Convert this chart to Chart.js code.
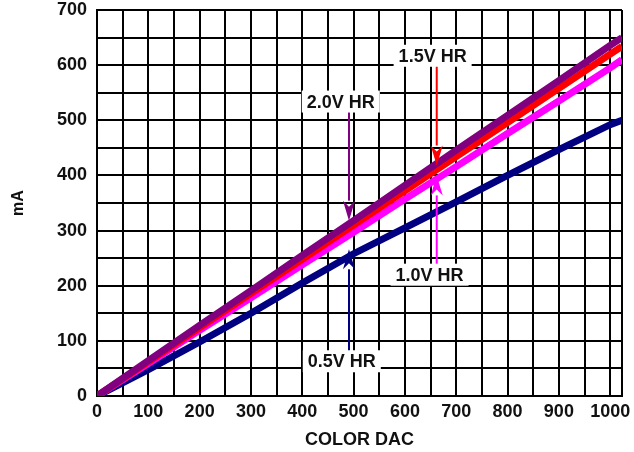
<!DOCTYPE html>
<html>
<head>
<meta charset="utf-8">
<script src="https://cdn.jsdelivr.net/npm/chart.js@4/dist/chart.umd.min.js"></script>
<style>
  html, body { margin: 0; padding: 0; background: #fff; }
</style>
</head>
<body>
<canvas class="js-chart" width="634" height="452"></canvas>
<script>
// COLOR DAC code vs output current (mA) for four headroom voltages
const dacCodes = [0, 100, 200, 300, 400, 500, 600, 700, 800, 900, 1000, 1023];
const hr20 = [0, 64, 128, 191, 255, 318, 382, 446, 509, 572, 636, 650];
const hr15 = [0, 62, 124, 186, 248, 310, 372, 434, 496, 558, 620, 634];
const hr10 = [0, 59, 119, 178, 238, 297, 357, 416, 476, 535, 595, 610];
const hr05 = [0, 48, 98, 150, 205, 258, 305, 352, 400, 447, 492, 500];

const seriesNames = ['2.0V HR', '1.5V HR', '1.0V HR', '0.5V HR'];
const seriesColors = ['#800080', '#ff0000', '#ff00ff', '#000080'];

const FONT = { family: '"Liberation Sans", Arial, sans-serif', size: 18, weight: 'bold' };

// callout labels: text centre and arrow tip, in data units
const callouts = [
  { text: '1.5V HR', x: 654, y: 617, tipX: 662, tipY: 418, color: '#ff0000', dir: 1 },
  { text: '2.0V HR', x: 475, y: 534, tipX: 491, tipY: 318, color: '#800080', dir: 1 },
  { text: '1.0V HR', x: 648, y: 220, tipX: 662, tipY: 400, color: '#ff00ff', dir: -1 },
  { text: '0.5V HR', x: 477, y: 63, tipX: 491, tipY: 266, color: '#000080', dir: -1 },
];

function toPoints(values) {
  return dacCodes.map((x, i) => ({ x, y: values[i] }));
}

const framePlugin = {
  id: 'frame',
  beforeDatasetsDraw(chart) {
    const { ctx, chartArea: a } = chart;
    ctx.save();
    ctx.strokeStyle = '#000';
    ctx.lineWidth = 2;
    ctx.beginPath();
    ctx.moveTo(a.right, a.top);
    ctx.lineTo(a.right, a.bottom);
    ctx.stroke();
    ctx.restore();
  },
};

const calloutPlugin = {
  id: 'callouts',
  afterDatasetsDraw(chart) {
    const { ctx, scales } = chart;
    ctx.save();
    ctx.font = `${FONT.weight} ${FONT.size}px ${FONT.family}`;
    ctx.textAlign = 'center';
    ctx.textBaseline = 'middle';
    callouts.forEach(c => {
      const cx = scales.x.getPixelForValue(c.x);
      const cy = scales.y.getPixelForValue(c.y);
      const tx = scales.x.getPixelForValue(c.tipX);
      const ty = scales.y.getPixelForValue(c.tipY);
      const w = ctx.measureText(c.text).width + 10;
      ctx.fillStyle = '#fff';
      ctx.fillRect(cx - w / 2, cy - 11, w, 22);
      ctx.fillStyle = '#111';
      ctx.fillText(c.text, cx, cy + 1);

      const startY = cy + c.dir * 11;
      const headLen = 20;
      ctx.strokeStyle = c.color;
      ctx.fillStyle = c.color;
      ctx.lineWidth = 2;
      ctx.beginPath();
      ctx.moveTo(tx, startY);
      ctx.lineTo(tx, ty - c.dir * headLen);
      ctx.stroke();
      ctx.beginPath();
      ctx.moveTo(tx, ty);
      ctx.lineTo(tx - 6, ty - c.dir * headLen);
      ctx.lineTo(tx, ty - c.dir * (headLen - 6));
      ctx.lineTo(tx + 6, ty - c.dir * headLen);
      ctx.closePath();
      ctx.fill();
    });
    ctx.restore();
  },
};

const context = document.querySelector('.js-chart').getContext('2d');

new Chart(context, {
  type: 'line',
  data: {
    datasets: [hr20, hr15, hr10, hr05].map((values, i) => ({
      label: seriesNames[i],
      data: toPoints(values),
      borderColor: seriesColors[i],
      backgroundColor: seriesColors[i],
      borderWidth: 7,
      pointRadius: 0,
      tension: 0,
    })),
  },
  options: {
    responsive: false,
    animation: false,
    layout: { padding: 0 },
    plugins: { legend: { display: false }, tooltip: { enabled: false } },
    scales: {
      x: {
        type: 'linear',
        min: 0,
        max: 1023,
        afterFit(scale) {
          scale.height = 56;
          scale.paddingLeft = 0;
          scale.paddingRight = 12;
        },
        grid: { color: '#000', lineWidth: 2, drawTicks: false },
        border: { display: true, color: '#000', width: 2 },
        ticks: {
          stepSize: 50,
          includeBounds: false,
          autoSkip: false,
          maxRotation: 0,
          padding: 5,
          color: '#111',
          font: FONT,
          callback(value) {
            return value % 100 === 0 ? value : '';
          },
        },
        title: { display: true, text: 'COLOR DAC', color: '#111', font: FONT, padding: { top: 0, bottom: 1 } },
      },
      y: {
        min: 0,
        max: 700,
        afterFit(scale) {
          scale.width = 97;
          scale.paddingTop = 10;
          scale.paddingBottom = 0;
        },
        grid: { color: '#000', lineWidth: 2, drawTicks: false },
        border: { display: true, color: '#000', width: 2 },
        ticks: {
          stepSize: 50,
          autoSkip: false,
          padding: 10,
          color: '#111',
          font: FONT,
          callback(value) {
            return value % 100 === 0 ? value : '';
          },
        },
        title: { display: true, text: 'mA', color: '#111', font: { ...FONT, size: 16 }, padding: { top: 9, bottom: 0 } },
      },
    },
  },
  plugins: [framePlugin, calloutPlugin],
});
</script>
</body>
</html>
